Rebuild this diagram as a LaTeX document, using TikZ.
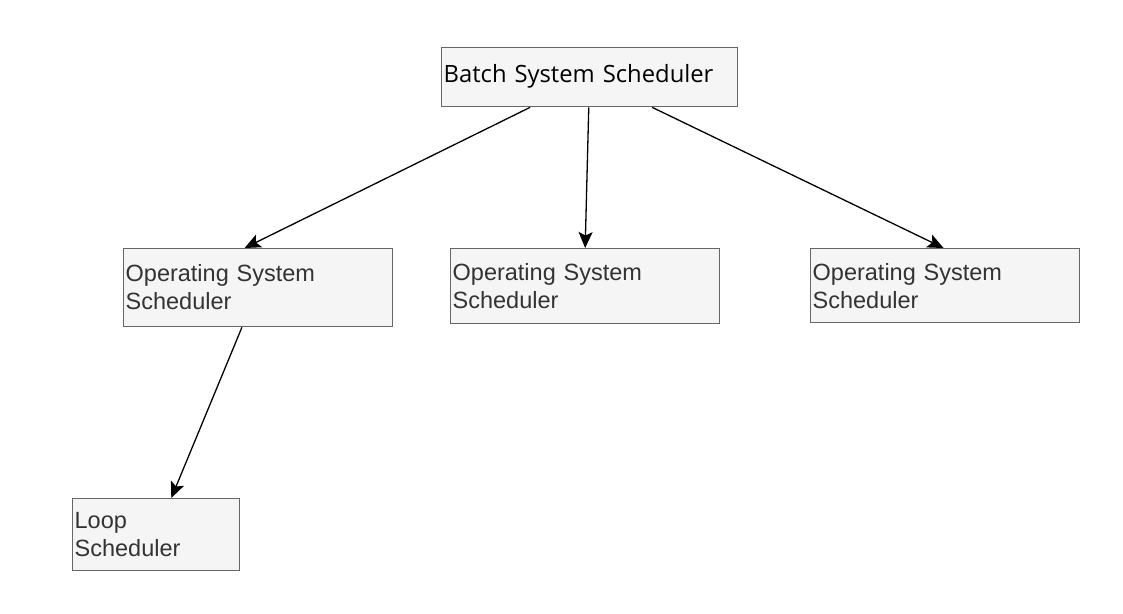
\documentclass[tikz,border=0pt]{standalone}
\usepackage{fontspec}
\newfontfamily\batchfont{Open Sans}
\newfontfamily\osfont{Liberation Sans}
\usetikzlibrary{arrows.meta,calc}
\definecolor{boxfill}{HTML}{F5F5F5}
\definecolor{boxline}{HTML}{666666}
\definecolor{txt}{HTML}{333333}
\begin{document}
\begin{tikzpicture}[x=1pt,y=-1pt,
  box/.style={draw=boxline,fill=boxfill,line width=1.3pt,anchor=north west,
    inner xsep=2pt,inner ysep=0pt,align=left,text=txt,
    font=\osfont\fontsize{23.5}{28}\selectfont},
  conn/.style={line width=1.3pt,-{Stealth[length=16pt,width=14pt,inset=3.5pt]}}]
\useasboundingbox (0,0) rectangle (1123,613);
\node[box,minimum width=296pt,minimum height=59pt,text width=292pt,text=black,
  font=\batchfont\fontsize{23.8}{28}\selectfont] (batch) at (441,47) {\raisebox{7pt}{Batch System Scheduler}};
\node[box,minimum width=269pt,minimum height=78pt,text width=265pt] (os1) at (123,248) {\raisebox{2pt}{Operating System}\\\raisebox{2pt}{Scheduler}};
\node[box,minimum width=269pt,minimum height=75pt,text width=265pt] (os2) at (450,248) {Operating System\\Scheduler};
\node[box,minimum width=269pt,minimum height=74pt,text width=265pt] (os3) at (810,248) {Operating System\\Scheduler};
\node[box,minimum width=167pt,minimum height=72pt,text width=163pt] (loop) at (72,498) {Loop\\Scheduler};
\draw[conn] ($(batch.south west)!0.30!(batch.south east)$) -- ($(os1.north west)!0.45!(os1.north east)$);
\draw[conn] ($(batch.south west)!0.497!(batch.south east)$) -- ($(os2.north west)!0.50!(os2.north east)$);
\draw[conn] ($(batch.south west)!0.71!(batch.south east)$) -- ($(os3.north west)!0.494!(os3.north east)$);
\draw[conn] ($(os1.south west)!0.44!(os1.south east)$) -- ($(loop.north west)!0.59!(loop.north east)$);
\end{tikzpicture}
\end{document}
